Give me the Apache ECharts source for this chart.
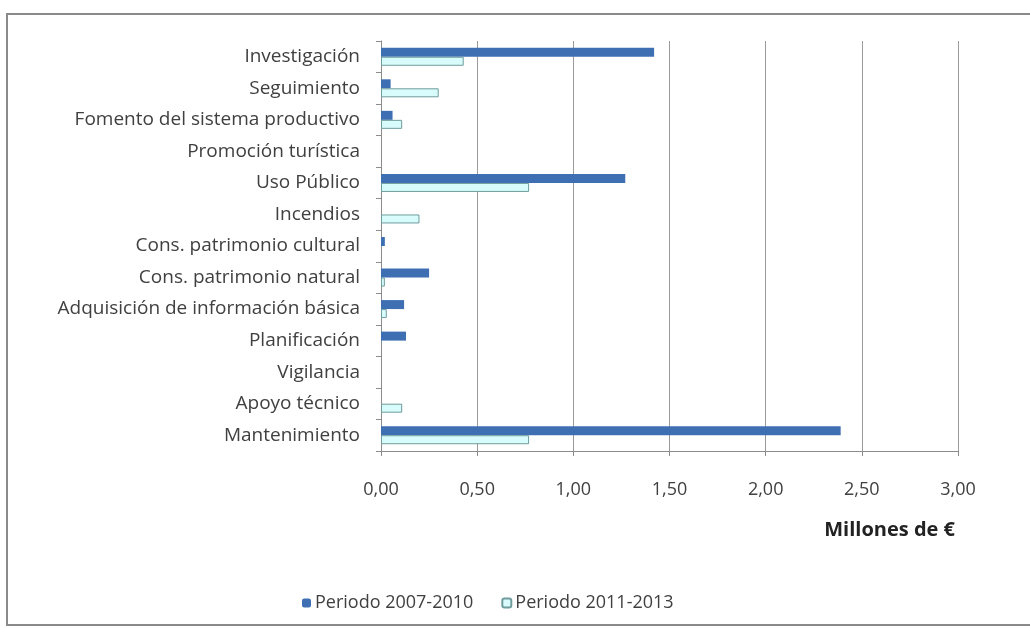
<!DOCTYPE html>
<html><head><meta charset="utf-8">
<script src="https://cdn.jsdelivr.net/npm/echarts@6/dist/echarts.min.js"></script>
<style>html,body{margin:0;padding:0;background:#fff}#c{width:1030px;height:628px}</style>
</head><body><div id="c"></div>
<script>
const categories = ["Investigación","Seguimiento","Fomento del sistema productivo","Promoción turística","Uso Público","Incendios","Cons. patrimonio cultural","Cons. patrimonio natural","Adquisición de información básica","Planificación","Vigilancia","Apoyo técnico","Mantenimiento"];
// null = sin gasto en el periodo
const periodo2007 = [1.42,0.05,0.06,null,1.27,null,0.02,0.25,0.12,0.13,null,null,2.39];
const periodo2011 = [0.43,0.30,0.11,null,0.77,0.20,null,0.02,0.03,null,null,0.11,0.77];
const seriesNames = ["Periodo 2007-2010","Periodo 2011-2013"];
const font = "'Open Sans', 'Noto Sans', sans-serif";
const chart = echarts.init(document.getElementById('c'));
chart.setOption({
  animation:false,
  backgroundColor:'#fff',
  textStyle:{fontFamily:font},
  grid:{left:381,right:72,top:41,bottom:177,containLabel:false},
  xAxis:{type:'value',min:0,max:3,interval:0.5,
    axisLine:{show:true,lineStyle:{color:'#8c8c8c'}},
    axisTick:{show:true,length:5,lineStyle:{color:'#8c8c8c'}},
    splitLine:{show:true,lineStyle:{color:'#9a9a9a',width:1}},
    axisLabel:{fontSize:18,color:'#404040',margin:30,fontFamily:font,
      formatter:v=>v.toFixed(2).replace('.',',')}},
  yAxis:{type:'category',data:categories,inverse:true,
    axisLine:{show:true,lineStyle:{color:'#8c8c8c'}},
    axisTick:{show:true,length:5,lineStyle:{color:'#8c8c8c'}},
    axisLabel:{fontSize:19,color:'#404040',margin:21,fontFamily:font}},
  legend:{bottom:11,left:297,itemWidth:9,itemHeight:9,itemGap:28,
    textStyle:{fontSize:18,color:'#404040',fontFamily:font,padding:[0,0,0,-1]},
    data:seriesNames},
  series:[
    {name:seriesNames[0],type:'bar',data:periodo2007,barWidth:9,barGap:'0%',
      itemStyle:{color:'#3f6fb3'}},
    {name:seriesNames[1],type:'bar',data:periodo2011,barWidth:9,
      itemStyle:{color:'#d8fbfb',borderColor:'#6f9c9c',borderWidth:1}}
  ],
  graphic:[
    {type:'rect',shape:{x:7,y:14,width:1040,height:611},style:{fill:'none',stroke:'#8a8a8a',lineWidth:2},silent:true},
    {type:'text',right:75,top:520,style:{text:'Millones de €',font:"bold 20px "+font,fill:'#222'}}
  ]
});
</script></body></html>
